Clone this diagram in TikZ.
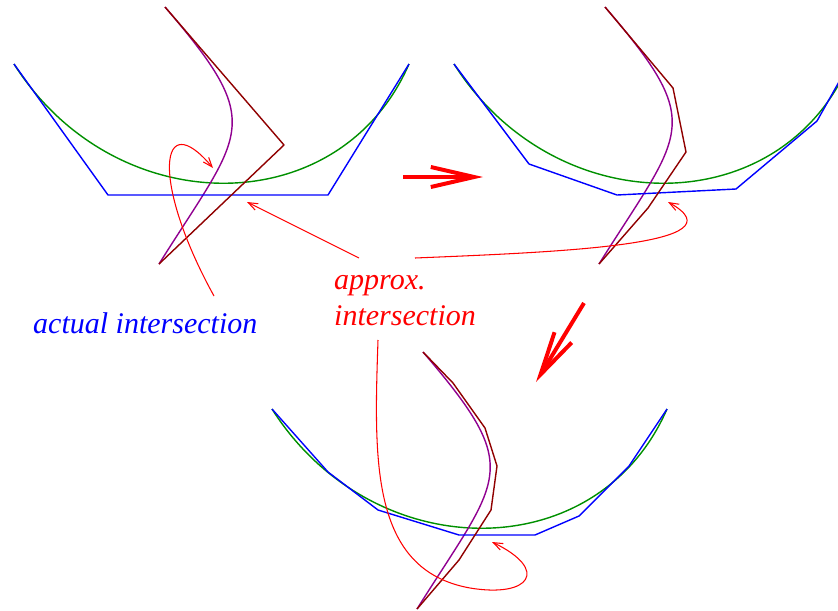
\documentclass[tikz,border=0pt]{standalone}
\usepackage{fontspec}
\setmainfont{Liberation Serif}
\usetikzlibrary{arrows.meta,positioning}
\definecolor{figgreen}{RGB}{0,144,0}
\definecolor{figpurple}{RGB}{144,0,144}
\definecolor{figdarkred}{RGB}{144,0,0}

\begin{document}
\begin{tikzpicture}[
    x=0.03cm, y=-0.03cm,
    greencurve/.style={draw=figgreen, line width=1.2pt},
    purplecurve/.style={draw=figpurple, line width=1.2pt},
    bluepoly/.style={draw=blue, line width=1.2pt, line join=round},
    redpoly/.style={draw=figdarkred, line width=1.2pt, line join=round},
    pointer/.style={draw=red, line width=0.9pt, -{Straight Barb[length=8pt, width=6pt]}},
    bigarrow/.style={draw=red, line width=3.4pt, -{Straight Barb[length=1.3cm, width=0.6cm]}},
    lbl/.style={inner sep=0pt, font=\fontsize{25.6}{30.7}\selectfont\itshape}
]
\useasboundingbox (0,0) rectangle (838,610);
\clip (0,0) rectangle (838,610);

%% ── Curves (same in all three panels) ────────────────────────────
\foreach \dx/\dy in {0/0, 440/0, 258/345} {
  \begin{scope}[shift={(\dx,\dy)}]
    \draw[greencurve]  (14,64) .. controls (115,223) and (340,223) .. (409,64);
    \draw[purplecurve] (165,7) .. controls (267,126) and (243,130) .. (159,264);
  \end{scope}
}

%% ── Control polygons ─────────────────────────────────────────────
\draw[bluepoly] (14,64) -- (108,195) -- (328,195) -- (409,64);
\draw[redpoly]  (165,7) -- (284,145) -- (159,264);

\draw[bluepoly] (454,64) -- (529,164) -- (617,195) -- (736,189) -- (817,121) -- (849,64);
\draw[redpoly]  (605,7) -- (673,88) -- (686,152) -- (648,208) -- (599,264);

\draw[bluepoly] (272,409) -- (328,472) -- (378,510) -- (459,535) -- (535,535)
                -- (579,516) -- (629,466) -- (667,409);
\draw[redpoly]  (423,352) -- (453,383) -- (485,428) -- (497,466) -- (491,510)
                -- (459,560) -- (417,609);

%% ── Labels ───────────────────────────────────────────────────────
\node[lbl, text=blue, anchor=base west] (actual) at (33,333) {actual intersection};
\node[lbl, text=red, anchor=base west, align=left] (approx) at (334,325)
    {approx.\\intersection};

%% ── Pointers ─────────────────────────────────────────────────────
\coordinate (actfrom) at (214,296);
\coordinate (actto)   at (213,168);
\coordinate (appfromA) at (359,258);
\coordinate (apptoA)   at (247,202);
\coordinate (appfromB) at (415,258);
\coordinate (apptoB)   at (668,202);
\coordinate (appfromC) at (378,340);
\coordinate (apptoC)   at (492,542);

\draw[pointer] (actfrom) .. controls (150,180) and (160,105) .. (actto);
\draw[pointer] (appfromA) -- (apptoA);
\draw[pointer] (appfromB) .. controls (560,252) and (745,245) .. (apptoB);
\draw[pointer] (appfromC) .. controls (374,460) and (370,570) .. (470,588)
               .. controls (530,598) and (550,570) .. (apptoC);

%% ── Subdivision steps ────────────────────────────────────────────
\coordinate (stepAfrom) at (403,177);
\coordinate (stepAto)   at (483,177);
\coordinate (stepBfrom) at (584,303);
\coordinate (stepBto)   at (536,382);
\draw[bigarrow] (stepAfrom) -- (stepAto);
\draw[bigarrow] (stepBfrom) -- (stepBto);

\end{tikzpicture}
\end{document}
